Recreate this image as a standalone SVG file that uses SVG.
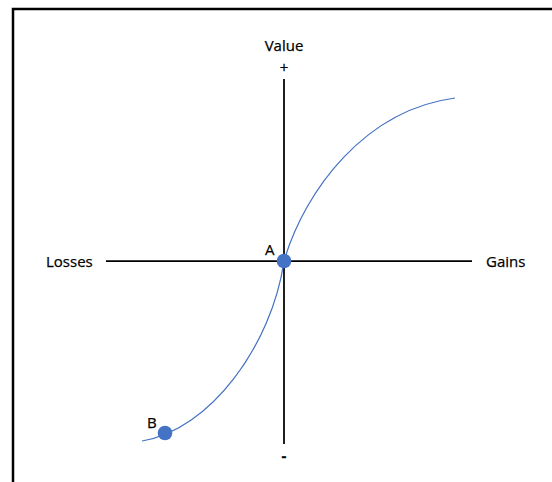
<svg xmlns="http://www.w3.org/2000/svg" width="552" height="482" viewBox="0 0 552 482">
<style>
.t{font-family:"Open Sans","Liberation Sans",sans-serif;font-size:15px;fill:#000;stroke:#000;stroke-width:0.25}
.ax{stroke:#000;stroke-width:1.75;fill:none}
.pt{fill:#4472C4}
</style>
<rect x="0" y="0" width="552" height="482" fill="#fff"/>
<path d="M13,490 V9 H560" fill="none" stroke="#000" stroke-width="2.5"/>
<g id="axes">
<line class="ax" x1="284" y1="79" x2="284" y2="444"/>
<line class="ax" x1="106" y1="261" x2="472" y2="261"/>
</g>
<g id="curve">
<path d="M142,441 C210,430 272,345 284,261 C305,190 365,110 455,98" fill="none" stroke="#4472C4" stroke-width="1.25"/>
</g>
<g id="labels">
<text class="t" x="284" y="51" text-anchor="middle">Value</text>
<text class="t" x="284" y="73" text-anchor="middle" font-size="17">+</text>
<text class="t" x="284" y="461" text-anchor="middle" font-size="19" font-weight="bold">-</text>
<text class="t" x="46" y="267">Losses</text>
<text class="t" x="486" y="267">Gains</text>
</g>
<g id="pointA">
<circle class="pt" cx="284" cy="261" r="7.3"/>
<text class="t" x="265" y="255">A</text>
</g>
<g id="pointB">
<circle class="pt" cx="165" cy="433" r="7.3"/>
<text class="t" x="147" y="428">B</text>
</g>
</svg>
